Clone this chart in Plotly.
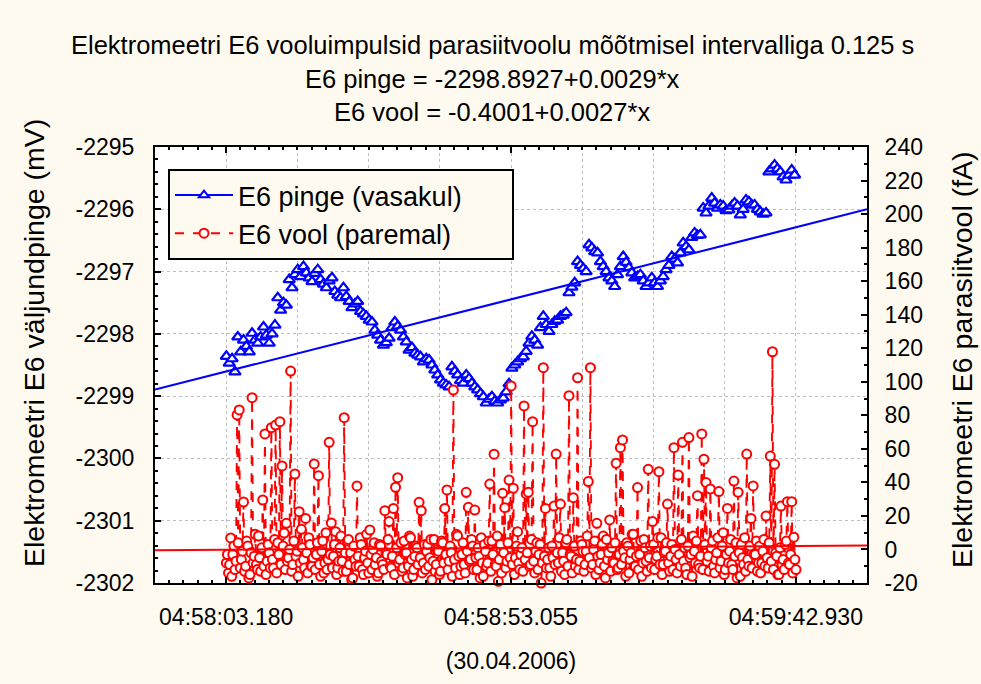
import plotly.graph_objects as go

# ---------------- data ----------------
# x is the sample number (0.125 s per sample); first sample at 04:58:03.180
x_range = [0, 997.5]
x_tick_step = 99.75
x_tick_labels = ["", "04:58:03.180", "", "", "", "04:58:53.055", "", "", "", "04:59:42.930", ""]

pinge_start, pinge_step = 100, 4
pinge = [
    -2298.36, -2298.47, -2298.40, -2298.61, -2298.05, -2298.29, -2298.10, -2298.20, -2298.29, -2297.99,
    -2298.10, -2298.15, -2298.05, -2297.89, -2298.02, -2298.15, -2298.00, -2297.86, -2297.42, -2297.62,
    -2297.50, -2297.54, -2297.13, -2297.26, -2297.05, -2296.97, -2297.08, -2296.92, -2297.02, -2297.10,
    -2297.16, -2297.03, -2296.97, -2297.13, -2297.20, -2297.26, -2297.15, -2297.10, -2297.32, -2297.38,
    -2297.42, -2297.26, -2297.40, -2297.48, -2297.58, -2297.52, -2297.48, -2297.64, -2297.68, -2297.72,
    -2297.78, -2297.81, -2297.94, -2298.02, -2298.10, -2298.18, -2298.14, -2298.07, -2297.90, -2297.81,
    -2297.88, -2297.94, -2298.05, -2298.13, -2298.26, -2298.22, -2298.31, -2298.34, -2298.37, -2298.45,
    -2298.40, -2298.42, -2298.50, -2298.58, -2298.66, -2298.74, -2298.79, -2298.82, -2298.85, -2298.53,
    -2298.60, -2298.66, -2298.75, -2298.79, -2298.66, -2298.72, -2298.79, -2298.85, -2298.90, -2298.96,
    -2299.01, -2299.11, -2299.05, -2299.01, -2299.08, -2299.11, -2299.06, -2299.03, -2298.93, -2298.80,
    -2298.55, -2298.50, -2298.45, -2298.40, -2298.37, -2298.28, -2298.15, -2298.04, -2298.10, -2298.18,
    -2297.90, -2297.72, -2297.85, -2297.96, -2297.85, -2297.80, -2297.78, -2297.72, -2297.70, -2297.66,
    -2297.34, -2297.25, -2297.18, -2296.84, -2296.90, -2296.95, -2297.00, -2296.57, -2296.62, -2296.68,
    -2296.70, -2296.84, -2296.92, -2297.00, -2297.10, -2297.15, -2297.24, -2297.05, -2296.92, -2296.76,
    -2296.85, -2296.94, -2297.02, -2297.10, -2297.08, -2297.05, -2297.15, -2297.24, -2297.18, -2297.10,
    -2297.18, -2297.24, -2297.15, -2297.08, -2296.97, -2296.90, -2296.76, -2296.80, -2296.86, -2296.70,
    -2296.54, -2296.60, -2296.65, -2296.45, -2296.38, -2296.42, -2296.41, -2295.98, -2296.06, -2295.95,
    -2295.82, -2295.90, -2295.98, -2295.93, -2295.95, -2296.02, -2296.01, -2295.95, -2295.90, -2295.95,
    -2296.09, -2296.00, -2295.85, -2295.88, -2295.93, -2295.93, -2296.00, -2296.04, -2296.08, -2296.06,
    -2295.40, -2295.35, -2295.29, -2295.35, -2295.40, -2295.48, -2295.53, -2295.45, -2295.37, -2295.45,
]

vool_start, vool_step = 100, 1.5
vool = [
    -8, -3, -14, -9, 6.9, -16, -3, 2, -12, -7, 80.2, 4, 83.2, -11, -6, -1, 28.3, -13, -10, 5,
    2, -17, -15, -2, 90.5, -8, -4, 9, -9, -12, 8.1, -5, -13, 1, 29.5, -10, 68.9, -15, -7, 3,
    -2, -11, 72.6, -6, -11, 6, 74.2, -14, 4, -3, 76.2, -9, 49.8, 2, 9.8, -12, 15.6, -7, -5, 0,
    106.4, -13, -9, 5, 45.0, -4, -1, -16, 22.5, -8, 12, 1, -6, -11, 18.5, -2, -14, 7, 3, -10,
    -10, -5, 51.0, -12, -3, 4, 44.0, -9, -16, -1, 5, -14, -8, 10, -12, -6, 63.9, -3, 15.8, -11,
    -4, 3, 10.6, -15, -11, -7, 1, 8, -7, -13, 78.6, -2, -13, 5, 6, -9, -2, -18, -17, 2,
    -6, -10, 37.9, -4, -10, 7, 3, -12, -15, -5, -1, 9, -8, -14, 11.6, -3, -12, 0, 4, -9,
    -5, -16, -14, 3, 2, -7, -9, -12, 23.1, -2, -3, 6, 16.6, -10, -11, -4, 24.5, -15, 37.1, 1,
    42.8, -8, -6, 4, -13, -11, 5, -3, -2, -17, -10, 8, 7, -6, -16, -12, -4, 2, 1, -9,
    28.1, -5, 23.1, -14, -8, 3, -12, -1, 3, -10, -5, 6, -18, -7, 6, -13, -9, 0, -1, -15,
    -13, 5, 4, -8, 24.5, -3, 35.5, -12, -7, 2, -2, -16, 95.1, -6, -11, 9, 8, -4, -15, -10,
    -3, 4, -9, -14, 34.1, -1, 25.1, -7, -6, 6, 2, -12, 23.5, -5, -12, 1, -4, -17, 7, -8,
    -16, 3, -1, -10, -8, 5, 39.0, -13, 5, -3, 56.8, -9, -10, 8, -19, -6, 3, -14, 33.5, -2,
    24.9, -11, -7, 4, 41.4, -5, 97.5, -9, 36.5, -15, -5, 2, 10.6, -8, -12, -3, 1, -13, 85.6, -6,
    33.1, -2, 34.1, -10, -9, 6, 76.2, -7, -14, -1, 4, -12, -3, 3, -20, -8, 108.4, -4, 24.5, -11,
    -6, 1, -11, -16, 2, -5, 25.9, -9, 56.9, -2, -8, 7, 27.1, -13, -2, -7, -15, 4, 6, -10,
    91.7, -3, -4, -14, 30.9, 2, -10, -6, 102.4, -12, -7, 5, 3, -1, -13, -9, -1, 8, 40.5, -5,
    108.4, -11, -9, 0, 5, -15, 15.6, -4, -12, -8, -3, 3, 8, -10, -17, 6, -6, -2, 17.6, -13,
    1, -7, -8, 4, 51.4, -12, -11, -3, 60.7, -9, 65.3, -1, -5, -16, 4, 2, -14, -6, -2, 9,
    9, -10, -10, -4, 36.9, -12, -3, 5, -16, -8, 6, 1, -7, -13, 47.8, -5, 2, -11, 16.6, 3,
    -12, -6, -4, 7, 46.4, -9, 7, -15, -9, -2, -1, 4, 27.1, -8, -13, -4, 3, -12, 60.7, 0,
    -6, -14, 44.4, -3, -10, 6, 63.9, -7, 1, -11, -15, 2, 66.7, -5, -3, -16, 8, -1, -8, 5,
    32.1, -9, -11, -4, 68.9, -12, 53.8, 3, 39.9, -7, -4, -13, 36.1, 1, 5, -10, -14, -6, -2, 7,
    34.5, -11, -7, 2, 10, -15, -12, -3, 24.5, -8, -1, 6, -9, -12, 40.8, -4, 4, -17, 34.1, -2,
    -16, 3, -5, -9, 7, -13, 56.9, -6, -10, 2, 18.5, -11, 37.9, -3, -3, 5, -13, -8, 2, -14,
    -8, -1, 6, -10, 19.9, -5, -11, 4, 55.7, -7, 117.9, -12, 50.8, -2, -4, -15, -15, 1, 25.9, -9,
    -6, -12, 3, 5, 28.5, -8, -9, -3, 28.5, -14, 7.3, -6, -12,
]

# regression coefficients (from the title)
pinge_a, pinge_b = -2298.8927, 0.0029
vool_a, vool_b = -0.4001, 0.0027

left_ticks = [-2302, -2301, -2300, -2299, -2298, -2297, -2296, -2295]
right_ticks = [-20, 0, 20, 40, 60, 80, 100, 120, 140, 160, 180, 200, 220, 240]

title_lines = [
    "Elektromeetri E6 vooluimpulsid parasiitvoolu mõõtmisel intervalliga 0.125 s",
    "E6 pinge = -2298.8927+0.0029*x",
    "E6 vool = -0.4001+0.0027*x",
]
left_title = "Elektromeetri E6 väljundpinge (mV)"
right_title = "Elektromeetri E6 parasiitvool (fA)"
x_title = "(30.04.2006)"
legend_names = ["E6 pinge (vasakul)", "E6 vool (paremal)"]

# ---------------- build ----------------
pinge_x = [pinge_start + pinge_step * i for i in range(len(pinge))]
vool_x = [vool_start + vool_step * i for i in range(len(vool))]
fit_x = [x_range[0], x_range[1]]

BLUE = "#0000FF"
RED = "#FF0000"
FONT = "Liberation Sans"
BG = "#FFFAF0"
NBSP = "\u00a0"

fig = go.Figure()

fig.add_trace(go.Scatter(
    x=vool_x, y=vool, yaxis="y2", mode="lines+markers", showlegend=False, cliponaxis=False,
    line=dict(color=RED, width=1.9, dash="dash"),
    marker=dict(symbol="circle", size=9, color="white", line=dict(color=RED, width=2)),
))
fig.add_trace(go.Scatter(
    x=pinge_x, y=pinge, yaxis="y", mode="markers", showlegend=False,
    marker=dict(symbol="triangle-up", size=10, color="white", line=dict(color=BLUE, width=2.2)),
))
fig.add_trace(go.Scatter(
    x=fit_x, y=[pinge_a + pinge_b * v for v in fit_x], yaxis="y", mode="lines",
    showlegend=False, line=dict(color=BLUE, width=2),
))
fig.add_trace(go.Scatter(
    x=fit_x, y=[vool_a + vool_b * v for v in fit_x], yaxis="y2", mode="lines",
    showlegend=False, line=dict(color=RED, width=2),
))
# legend entries
fig.add_trace(go.Scatter(
    x=[None], y=[None], mode="lines+markers", name=legend_names[0] + NBSP * 6,
    line=dict(color=BLUE, width=2),
    marker=dict(symbol="triangle-up", size=9, color="white", line=dict(color=BLUE, width=2)),
))
fig.add_trace(go.Scatter(
    x=[None], y=[None], mode="lines+markers", name=legend_names[1], yaxis="y2",
    line=dict(color=RED, width=2, dash="dash"),
    marker=dict(symbol="circle", size=9, color="white", line=dict(color=RED, width=2)),
))

xt = [x_tick_step * k for k in range(len(x_tick_labels))]
minor_x = [x_tick_step / 5 * k for k in range(0, 51)]

# plot area in pixels: x 155..867, y 147..583
PL, PR, PT, PB = 155, 867, 147, 583
def px_x(p):
    return (p - PL) / (PR - PL)
def px_y(p):
    return (PB - p) / (PB - PT)

annotations = []
for txt, ypix in zip(title_lines, [45, 79, 112]):
    annotations.append(dict(
        text=txt, xref="paper", yref="paper", x=px_x(492), y=px_y(ypix),
        xanchor="center", yanchor="middle", showarrow=False,
        font=dict(family=FONT, size=25.5, color="black"),
    ))
annotations.append(dict(
    text=left_title, xref="paper", yref="paper", x=px_x(34), y=px_y(343),
    xanchor="center", yanchor="middle", showarrow=False, textangle=-90,
    font=dict(family=FONT, size=28.5, color="black"),
))
annotations.append(dict(
    text=right_title, xref="paper", yref="paper", x=px_x(962), y=px_y(360),
    xanchor="center", yanchor="middle", showarrow=False, textangle=-90,
    font=dict(family=FONT, size=28.5, color="black"),
))

fig.update_layout(
    width=981, height=684,
    paper_bgcolor=BG, plot_bgcolor="white",
    margin=dict(l=PL, r=981 - PR, t=PT, b=684 - PB),
    font=dict(family=FONT, size=23, color="black"),
    annotations=annotations,
    showlegend=True,
    legend=dict(
        x=px_x(168), y=px_y(169), xanchor="left", yanchor="top",
        bgcolor=BG, bordercolor="black", borderwidth=2,
        font=dict(family=FONT, size=27, color="black"),
        itemwidth=58, tracegroupgap=0,
    ),
    xaxis=dict(
        range=x_range, tickmode="array", tickvals=xt, ticktext=x_tick_labels,
        ticks="inside", ticklen=6, tickwidth=1.5, tickcolor="black",
        showline=True, linecolor="black", linewidth=2, mirror="ticks",
        showgrid=True, gridcolor="#BDBDBD", griddash="dot", gridwidth=1,
        zeroline=False, ticklabelstandoff=12,
        minor=dict(tickvals=minor_x, ticks="inside", ticklen=3, tickcolor="black", showgrid=False),
        title=dict(text=x_title, standoff=24, font=dict(family=FONT, size=23)),
    ),
    yaxis=dict(
        range=[-2302, -2295], tickmode="array", tickvals=left_ticks,
        ticktext=[str(v) for v in left_ticks],
        ticks="inside", ticklen=6, tickwidth=1.5, tickcolor="black",
        showline=True, linecolor="black", linewidth=2, mirror=True,
        showgrid=True, gridcolor="#BDBDBD", griddash="dot", gridwidth=1,
        zeroline=False, ticklabelstandoff=14,
        minor=dict(dtick=0.2, ticks="inside", ticklen=3, tickcolor="black", showgrid=False),
    ),
    yaxis2=dict(
        range=[-20, 240], overlaying="y", side="right", tickmode="array",
        tickvals=right_ticks, ticktext=[str(v) for v in right_ticks],
        ticks="inside", ticklen=6, tickwidth=1.5, tickcolor="black",
        showline=True, linecolor="black", linewidth=2,
        showgrid=False, zeroline=False, ticklabelstandoff=11,
        minor=dict(dtick=10, ticks="inside", ticklen=3, tickcolor="black", showgrid=False),
    ),
)

fig.write_html("out.html")
